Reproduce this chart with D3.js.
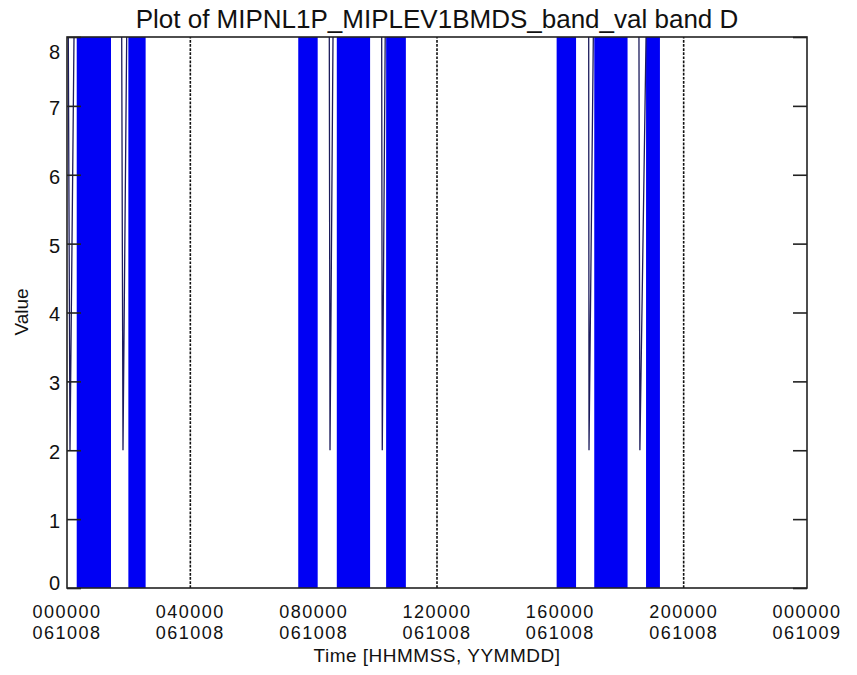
<!DOCTYPE html>
<html>
<head>
<meta charset="utf-8">
<script src="https://cdn.jsdelivr.net/npm/d3@7"></script>
<style>
  html, body { margin: 0; padding: 0; background: #ffffff; }
  svg { display: block; }
  text { font-family: "Liberation Sans", Arial, sans-serif; fill: #111; }
</style>
</head>
<body>
<svg id="chart" width="857" height="675"></svg>
<script>
// ---- data (hours since 000000 061008) ----
const titleText = "Plot of MIPNL1P_MIPLEV1BMDS_band_val band D";
const xTitle = "Time [HHMMSS, YYMMDD]";
const yTitle = "Value";
const xTickHours = [0, 4, 8, 12, 16, 20, 24];
const xTickTime = ["000000", "040000", "080000", "120000", "160000", "200000", "000000"];
const xTickDate = ["061008", "061008", "061008", "061008", "061008", "061008", "061009"];
const yTicks = [0, 1, 2, 3, 4, 5, 6, 7, 8];
// filled (blue) blocks where value stays at 8
const blockStart = [0.315, 1.99, 7.50, 8.75, 10.35, 15.88, 17.10, 18.78];
const blockEnd   = [1.427, 2.55, 8.13, 9.83, 10.99, 16.51, 18.18, 19.23];
const blockValue = [8, 8, 8, 8, 8, 8, 8, 8];
// single drops of the value from 8 to 2
const dropStart = [0.042, 1.774, 8.507, 10.206, 16.92, 18.55];
const dropMid   = [0.097, 1.816, 8.530, 10.225, 16.93, 18.58];
const dropEnd   = [0.227, 1.936, 8.627, 10.320, 17.07, 18.78];
const dropLow   = [2, 2, 2, 2, 2, 2];
const dropHigh  = [8, 8, 8, 8, 8, 8];

const svg = d3.select("#chart");
const M = { left: 67, right: 807, top: 37, bottom: 588 };
const x = d3.scaleLinear().domain([0, 24]).range([M.left, M.right]);
const y = d3.scaleLinear().domain([0, 8]).range([M.bottom, M.top]);

// dotted time grid (x ticks)
svg.append("g").selectAll("line")
  .data(xTickHours.slice(1, -1))
  .join("line")
  .attr("x1", d => x(d)).attr("x2", d => x(d))
  .attr("y1", y(0)).attr("y2", y(8))
  .attr("stroke", "#111").attr("stroke-width", 1.6)
  .attr("stroke-dasharray", "2.7,1.4");

// blue blocks
svg.append("g").selectAll("rect")
  .data(blockStart.map((s, i) => ({ s, e: blockEnd[i], v: blockValue[i] })))
  .join("rect")
  .attr("x", d => x(d.s)).attr("width", d => x(d.e) - x(d.s))
  .attr("y", d => y(d.v)).attr("height", d => y(0) - y(d.v))
  .attr("fill", "#0000f4");

// drops (lines)
const line = d3.line().x(d => x(d[0])).y(d => y(d[1]));
svg.append("g").selectAll("path")
  .data(dropStart.map((s, i) => [[s, dropHigh[i]], [dropMid[i], dropLow[i]], [dropEnd[i], dropHigh[i]]]))
  .join("path")
  .attr("d", line)
  .attr("fill", "none").attr("stroke", "#1c1c5c").attr("stroke-width", 1.3);

// frame
svg.append("rect")
  .attr("x", M.left).attr("y", M.top)
  .attr("width", M.right - M.left).attr("height", M.bottom - M.top)
  .attr("fill", "none").attr("stroke", "#222").attr("stroke-width", 1.6);

// y axis ticks left (inside) and right (inside)
const yAxisL = d3.axisLeft(y).tickValues(yTicks).tickSize(-14).tickPadding(7).tickFormat(d3.format("d"));
const gL = svg.append("g").attr("transform", `translate(${M.left},0)`).call(yAxisL);
gL.select(".domain").remove();
gL.selectAll("line").attr("stroke", "#222").attr("stroke-width", 1.6);
gL.selectAll("text").attr("font-size", 20).attr("fill", "#111")
  .attr("font-family", "Liberation Sans, Arial, sans-serif")
  .attr("dy", d => d === 8 ? "1.05em" : (d === 0 ? "0.05em" : "0.42em"));

const yAxisR = d3.axisRight(y).tickValues(yTicks).tickSize(-14).tickFormat("");
const gR = svg.append("g").attr("transform", `translate(${M.right},0)`).call(yAxisR);
gR.select(".domain").remove();
gR.selectAll("line").attr("stroke", "#222").attr("stroke-width", 1.6);

// x tick labels (two rows)
const xlab = xTickHours.map((h, i) => ({ h, t: xTickTime[i], d: xTickDate[i] }));
svg.append("g").selectAll("text")
  .data(xlab).join("text")
  .attr("x", d => x(d.h)).attr("y", 618)
  .attr("text-anchor", "middle").attr("font-size", 18).attr("letter-spacing", 1.5)
  .text(d => d.t);
svg.append("g").selectAll("text")
  .data(xlab).join("text")
  .attr("x", d => x(d.h)).attr("y", 639)
  .attr("text-anchor", "middle").attr("font-size", 18).attr("letter-spacing", 1.5)
  .text(d => d.d);

// titles
svg.append("text").attr("x", 437).attr("y", 28).attr("text-anchor", "middle")
  .attr("font-size", 26).text(titleText);
svg.append("text").attr("x", 437).attr("y", 662).attr("text-anchor", "middle")
  .attr("font-size", 19).attr("letter-spacing", 0.5).text(xTitle);
svg.append("text").attr("transform", "translate(28,312) rotate(-90)")
  .attr("text-anchor", "middle").attr("font-size", 19).text(yTitle);
</script>
</body>
</html>
